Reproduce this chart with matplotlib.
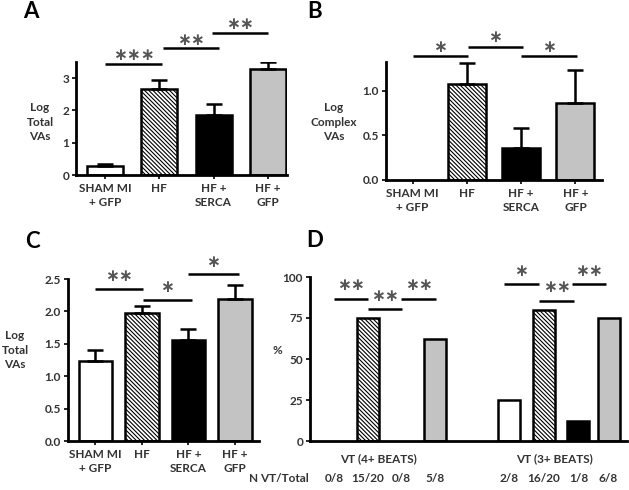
import matplotlib
matplotlib.use("Agg")
import matplotlib.pyplot as plt

W, H = 629, 490

groups = ["SHAM MI\n+ GFP", "HF", "HF +\nSERCA", "HF +\nGFP"]

# panel A: log total VAs
a_vals = [0.28, 2.66, 1.86, 3.29]
a_err = [0.07, 0.27, 0.34, 0.22]
a_sig = [(0.0, 1.05, 3.45, 3.73, "∗∗∗"), (1.07, 2.1, 3.92, 4.19, "∗∗"), (1.97, 3.0, 4.41, 4.69, "∗∗")]

# panel B: log complex VAs
b_vals = [0.0, 1.075, 0.355, 0.86]
b_err = [0.0, 0.235, 0.225, 0.37]
b_sig = [(0.0, 1.02, 1.39, 1.49, "∗"), (1.02, 2.03, 1.49, 1.60, "∗"), (2.0, 3.03, 1.39, 1.49, "∗")]

# panel C: log total VAs
c_vals = [1.23, 1.97, 1.56, 2.19]
c_err = [0.17, 0.12, 0.17, 0.21]
c_sig = [(0.0, 1.02, 2.35, 2.54, "∗∗"), (1.02, 2.07, 2.18, 2.38, "∗"), (2.0, 3.08, 2.58, 2.77, "∗")]

# panel D: % with VT
d_vt4 = [0.0, 75.0, 0.0, 62.5]
d_vt3 = [25.0, 80.0, 12.5, 75.0]
d_n4 = ["0/8", "15/20", "0/8", "5/8"]
d_n3 = ["2/8", "16/20", "1/8", "6/8"]
d_groups = ["VT (4+ BEATS)", "VT (3+ BEATS)"]
d_sig = [(-0.01, 0.99, 86.7, 95.3, "∗∗"), (1.0, 2.03, 80.4, 88.6, "∗∗"), (2.0, 3.03, 86.7, 95.3, "∗∗"),
         (5.06, 6.1, 95.7, 103.8, "∗"), (6.1, 7.15, 85.5, 93.6, "∗∗"), (7.1, 8.1, 95.7, 103.8, "∗∗")]

faces = ["white", "white", "black", "#c3c3c3"]
hatches = [None, "\\" * 8, None, None]

FAM = ["Lato", "DejaVu Sans"]
plt.rcParams["font.family"] = FAM
plt.rcParams["hatch.linewidth"] = 0.8
plt.rcParams["hatch.color"] = "#3a3a3a"
TXT = "#333333"

fig = plt.figure(figsize=(W / 100, H / 100), dpi=100)


def px_axes(x0, x1, ytop, ybot):
    return fig.add_axes([x0 / W, 1 - ybot / H, (x1 - x0) / W, (ybot - ytop) / H])


def style(ax, yticks, fmt):
    for s in ["top", "right"]:
        ax.spines[s].set_visible(False)
    for s in ["left", "bottom"]:
        ax.spines[s].set_linewidth(2)
    ax.set_yticks(yticks)
    ax.set_yticklabels([fmt.format(v) for v in yticks], fontsize=8.5, fontweight="bold", color=TXT)
    ax.tick_params(axis="y", length=3, width=1.2, pad=2)
    ax.tick_params(axis="x", length=3, width=1.2, pad=3)


def bars(ax, xs, vals, width):
    for i, (x, v) in enumerate(zip(xs, vals)):
        if v <= 0:
            continue
        ax.bar(x, v, width=width, color=faces[i % 4], edgecolor="black", linewidth=1.8,
               hatch=hatches[i % 4], zorder=2)


def errs(ax, xs, vals, err):
    for x, v, e in zip(xs, vals, err):
        if e <= 0:
            continue
        ax.errorbar(x, v, yerr=[[0], [e]], fmt="none", ecolor="black", elinewidth=1.8,
                    capsize=6, capthick=1.8, zorder=3)


def sig(ax, items, fs):
    for x1, x2, y, ys, lab in items:
        ax.plot([x1, x2], [y, y], color="black", linewidth=1.8, clip_on=False, solid_capstyle="butt")
        ax.text((x1 + x2) / 2, ys, lab, ha="center", va="center", fontsize=fs,
                color="#555555", family=["DejaVu Sans"], fontweight="bold", clip_on=False)


x4 = [0, 1, 2, 3]

# A
ax = px_axes(76, 287, 62, 175)
bars(ax, x4, a_vals, 0.66)
errs(ax, x4, a_vals, a_err)
ax.set_xlim(-0.53, 3.35)
ax.set_ylim(0, 3.5)
style(ax, [0, 1, 2, 3], "{:d}")
ax.set_xticks(x4)
ax.set_xticklabels(groups, fontsize=8.5, fontweight="bold", color=TXT, linespacing=1.3)
sig(ax, a_sig, 12)

# B
ax = px_axes(386, 602, 62, 180)
bars(ax, x4, b_vals, 0.7)
errs(ax, x4, b_vals, b_err)
ax.set_xlim(-0.49, 3.49)
ax.set_ylim(0, 1.32)
style(ax, [0.0, 0.5, 1.0], "{:.1f}")
ax.set_xticks(x4)
ax.set_xticklabels(groups, fontsize=8.5, fontweight="bold", color=TXT, linespacing=1.3)
sig(ax, b_sig, 12)

# C
ax = px_axes(68, 259, 279, 441)
bars(ax, x4, c_vals, 0.72)
errs(ax, x4, c_vals, c_err)
ax.set_xlim(-0.59, 3.52)
ax.set_ylim(0, 2.5)
style(ax, [0.0, 0.5, 1.0, 1.5, 2.0, 2.5], "{:.1f}")
ax.set_xticks(x4)
ax.set_xticklabels(groups, fontsize=8.5, fontweight="bold", color=TXT, linespacing=1.3)
sig(ax, c_sig, 12)

# D
ax = px_axes(310, 627, 277, 441)
g1 = [0, 1, 2, 3]
g2 = [5.2, 6.25, 7.28, 8.18]
bars(ax, g1, d_vt4, 0.66)
bars(ax, g2, d_vt3, 0.66)
ax.set_xlim(-0.73, 8.73)
ax.set_ylim(0, 100)
style(ax, [0, 25, 50, 75, 100], "{:d}")
ax.set_xticks([])
sig(ax, d_sig, 12)
ax.text(1.3, -10.5, d_groups[0], ha="center", va="center", fontsize=8.5, fontweight="bold", color=TXT)
ax.text(6.55, -10.5, d_groups[1], ha="center", va="center", fontsize=8.5, fontweight="bold", color=TXT)
for x, s in zip(g1, d_n4):
    ax.text(x, -22.8, s, ha="center", va="center", fontsize=8.5, fontweight="bold", color=TXT)
for x, s in zip(g2, d_n3):
    ax.text(x, -22.8, s, ha="center", va="center", fontsize=8.5, fontweight="bold", color=TXT)
fig.text(279 / W, 1 - 478 / H, "N VT/Total", ha="center", va="center", fontsize=8.5,
         fontweight="bold", color=TXT)

# axis labels
ylab = dict(ha="center", va="center", fontsize=8.5, fontweight="bold", color=TXT, linespacing=1.4)
fig.text(40 / W, 1 - 122 / H, "Log\nTotal\nVAs", **ylab)
fig.text(334 / W, 1 - 122 / H, "Log\nComplex\nVAs", **ylab)
fig.text(15 / W, 1 - 350 / H, "Log\nTotal\nVAs", **ylab)
fig.text(277 / W, 1 - 350 / H, "%", **ylab)

# panel letters
for lx, ly, L in [(31, 12, "A"), (315, 11, "B"), (32, 241, "C"), (315, 240, "D")]:
    fig.text(lx / W, 1 - ly / H, L, ha="center", va="center", fontsize=16, fontweight="bold")

fig.savefig("out.png", dpi=100)
